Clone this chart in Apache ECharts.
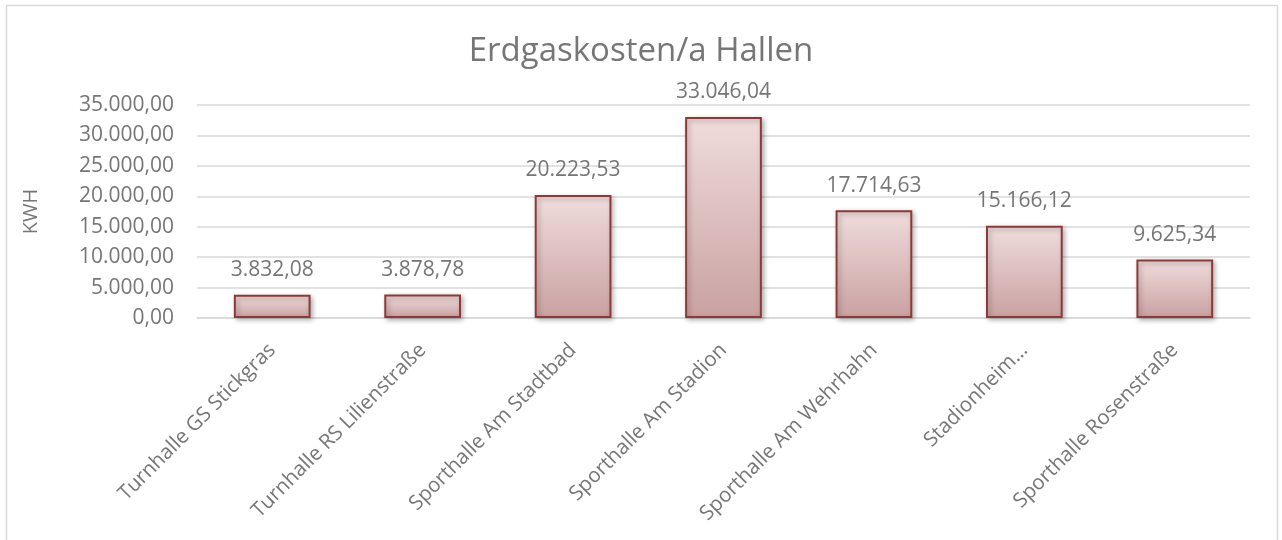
<!DOCTYPE html>
<html>
<head>
<meta charset="utf-8">
<script src="https://cdn.jsdelivr.net/npm/echarts@6/dist/echarts.min.js"></script>
<style>
html,body{margin:0;padding:0;background:#fff;}
#chart{width:1282px;height:540px;}
</style>
</head>
<body>
<div id="chart"></div>
<script>
const categories = ["Turnhalle GS Stickgras","Turnhalle RS Lilienstraße","Sporthalle Am Stadtbad","Sporthalle Am Stadion","Sporthalle Am Wehrhahn","Stadionheim…","Sporthalle Rosenstraße"];
const values = [3832.08, 3878.78, 20223.53, 33046.04, 17714.63, 15166.12, 9625.34];
const titleText = "Erdgaskosten/a Hallen";
const yAxisName = "KWH";

function fmtDE(v){
  const fixed = Math.abs(v).toFixed(2);
  let [i,d] = fixed.split('.');
  i = i.replace(/\B(?=(\d{3})+(?!\d))/g, '.');
  return (v<0?'-':'') + i + ',' + d;
}

const FONT = '"Open Sans", "Noto Sans", sans-serif';
const TXT = '#767676';

const chart = echarts.init(document.getElementById('chart'), null, {renderer:'canvas'});
chart.setOption({
  backgroundColor:'#fff',
  animation:false,
  title:{
    text:titleText, left:'center', top:30,
    textStyle:{fontFamily:FONT, fontSize:33, fontWeight:'normal', color:TXT}
  },
  graphic:[{
    type:'rect', shape:{x:6.5,y:5.5,width:1271,height:545},
    style:{fill:'none', stroke:'#d9d9d9', lineWidth:1.5}, silent:true, z:-1
  }],
  grid:{left:197, right:32, top:105, bottom:222, containLabel:false},
  xAxis:{
    type:'category', data:categories,
    axisLine:{show:true, lineStyle:{color:'#d9d9d9', width:1.5}},
    axisTick:{show:false},
    axisLabel:{rotate:45, interval:0, margin:29, fontFamily:FONT, fontSize:20.5, color:TXT}
  },
  yAxis:{
    type:'value', min:0, max:35000, interval:5000,
    name:yAxisName, nameLocation:'middle', nameGap:156, nameRotate:90,
    nameTextStyle:{fontFamily:FONT, fontSize:20, color:TXT},
    axisLine:{show:false}, axisTick:{show:false},
    splitLine:{lineStyle:{color:'#d9d9d9', width:1.5}},
    axisLabel:{fontFamily:FONT, fontSize:21, color:TXT, margin:23, formatter:v=>fmtDE(v)}
  },
  series:[{
    type:'bar', data:values, barWidth:'51%',
    itemStyle:{
      color:new echarts.graphic.LinearGradient(0,0,0,1,[{offset:0,color:'#f0dcdc'},{offset:1,color:'#c9a1a1'}]),
      borderColor:'#8c3a38', borderWidth:2,
      shadowColor:'rgba(0,0,0,0.3)', shadowBlur:5, shadowOffsetX:2, shadowOffsetY:2
    },
    label:{show:true, position:'top', distance:14, fontFamily:FONT, fontSize:21, color:TXT, formatter:p=>fmtDE(p.value)}
  }]
});
</script>
</body>
</html>
